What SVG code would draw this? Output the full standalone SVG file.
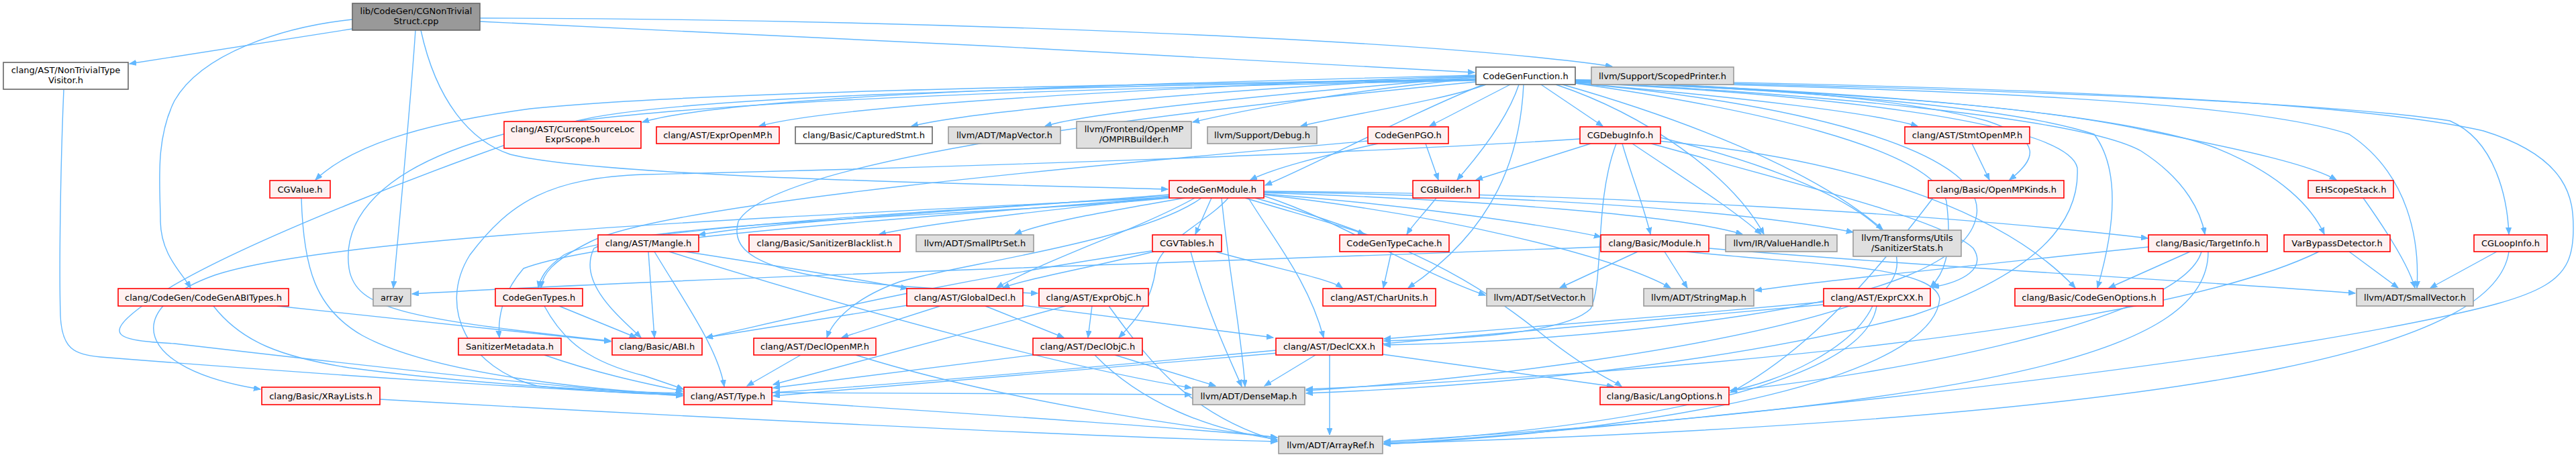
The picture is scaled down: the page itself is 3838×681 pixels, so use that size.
<svg xmlns="http://www.w3.org/2000/svg" width="3838" height="681" viewBox="0 0 3838 681">
<style>
text{font-family:"DejaVu Sans","Liberation Sans",sans-serif;font-size:13px;text-anchor:middle;fill:#000}
.r rect{fill:#fff0f0;stroke:#ff0000;stroke-width:1.6}
.g rect{fill:#e0e0e0;stroke:#999999;stroke-width:1.6}
.w rect{fill:#ffffff;stroke:#666666;stroke-width:1.6}
.root rect{fill:#999999;stroke:#666666;stroke-width:1.6}
#edges path{fill:none;stroke:#63b8ff;stroke-width:1.4;marker-end:url(#a)}
</style>
<defs>
<marker id="a" markerWidth="12" markerHeight="10" refX="10" refY="4" orient="auto" markerUnits="userSpaceOnUse"><path d="M0,0 L10,4 L0,8 Z" fill="#63b8ff" stroke="#63b8ff" stroke-width="1"/></marker>
</defs>
<rect width="3838" height="681" fill="#ffffff"/>
<g id="edges">
<path d="M715,32 C1100,48 1800,85 2197,108"/>
<path d="M715,27 C1300,28 2100,55 2402,99"/>
<path d="M525,43 L193,95"/>
<path d="M525,29 C420,40 300,80 260,150 C230,210 239,280 239,330 C240,380 270,405 284,429"/>
<path d="M619,45 C612,150 598,300 586,429"/>
<path d="M627,45 C650,150 700,210 760,230 C900,265 1500,275 1740,282"/>
<path d="M95,133 C90,250 88,400 90,470 C92,520 110,528 150,532 C500,560 850,582 1017,589"/>
<path d="M318,456 C360,510 420,532 520,548 C700,572 900,583 1017,586"/>
<path d="M413,456 L910,509"/>
<path d="M449,295 C452,400 470,460 540,500 C650,560 900,582 1017,588"/>
<path d="M2199,112 C1700,125 1100,140 957,182"/>
<path d="M2199,113 C1750,130 1250,155 1131,188"/>
<path d="M2199,114 C1800,135 1450,165 1358,188"/>
<path d="M2199,115 C1900,140 1620,168 1557,188"/>
<path d="M2199,117 C2000,135 1850,165 1777,182"/>
<path d="M2214,126 C2150,150 2000,172 1938,188"/>
<path d="M2250,126 L2130,188"/>
<path d="M2296,126 L2388,188"/>
<path d="M2263,126 C2245,180 2200,235 2171,268"/>
<path d="M2199,118 C1500,128 1000,140 790,162 C620,185 520,220 470,268"/>
<path d="M2199,119 C1500,130 1000,145 860,180 C700,230 330,370 220,450 C150,500 170,507 260,512 C500,540 850,580 1017,590"/>
<path d="M2199,120 C1400,135 900,160 750,200 C560,250 510,330 520,400 C530,460 600,475 910,508"/>
<path d="M2210,126 C2100,170 1950,250 1885,276"/>
<path d="M2199,122 C1700,170 1150,240 1100,330 C1080,400 1200,425 1546,437"/>
<path d="M2270,126 C2265,230 2230,340 2098,429"/>
<path d="M2318,126 C2450,170 2580,260 2628,349"/>
<path d="M2328,126 C2500,175 2700,250 2805,342"/>
<path d="M2347,124 C2600,145 2800,170 2857,188"/>
<path d="M2347,120 C2650,130 2850,150 2960,180 C3050,210 3030,240 2994,268"/>
<path d="M2347,121 C2650,135 3000,150 3200,195 C3350,225 3440,245 3481,268"/>
<path d="M2347,122 C2700,140 3100,175 3190,225 C3260,270 3280,320 3285,349"/>
<path d="M2347,121 C2750,135 3150,165 3300,220 C3400,260 3445,310 3463,349"/>
<path d="M2347,119 C2950,132 3450,150 3650,180 C3720,210 3736,300 3738,349"/>
<path d="M2347,120 C2900,133 3350,150 3500,200 C3590,260 3605,360 3601,429"/>
<path d="M2347,121 C2700,135 3000,160 3120,200 C3165,260 3145,360 3125,429"/>
<path d="M2347,119 C3000,128 3500,150 3700,195 C3830,235 3834,300 3834,340 C3834,420 3800,440 3600,480 C3200,560 2400,640 2062,662"/>
<path d="M2347,124 C2600,160 2880,220 2900,300 C2910,380 2895,410 2876,428"/>
<path d="M2347,123 C2700,140 3080,180 3095,250 C3100,350 3000,420 2850,470 C2500,560 2100,580 1946,586"/>
<path d="M2347,124 C2650,150 2960,220 2945,320 C2935,390 2800,440 2600,470 C2400,500 2200,512 2062,514"/>
<path d="M1742,290 C1500,310 1150,330 1041,350"/>
<path d="M1745,293 C1550,315 1400,330 1310,349"/>
<path d="M1765,295 C1650,315 1560,330 1512,349"/>
<path d="M1805,295 L1781,349"/>
<path d="M1855,295 C1920,315 1990,333 2033,349"/>
<path d="M1883,289 C2100,305 2300,335 2385,353"/>
<path d="M1883,287 C2200,298 2500,320 2596,349"/>
<path d="M1883,286 C2300,292 2600,315 2761,346"/>
<path d="M1883,285 C2400,288 2900,320 3200,355"/>
<path d="M1742,292 C1300,320 900,345 840,380 C812,400 805,415 802,429"/>
<path d="M1742,294 C1300,330 900,355 780,400 C745,440 742,480 744,503"/>
<path d="M1742,294 C1200,322 500,350 320,410 C180,460 200,550 388,580"/>
<path d="M1780,295 C1700,340 1550,390 1485,429"/>
<path d="M1790,295 C1700,360 1420,395 1340,420 C1270,445 1240,480 1232,503"/>
<path d="M1830,295 C1800,330 1728,360 1722,400 C1716,450 1690,480 1667,503"/>
<path d="M1860,295 C1900,360 1950,420 1972,503"/>
<path d="M1742,295 C1500,320 960,330 885,370 C860,420 920,470 955,503"/>
<path d="M1870,295 C2100,360 2200,420 2300,500 C2370,555 2405,568 2416,576"/>
<path d="M1820,295 C1830,400 1850,500 1855,576"/>
<path d="M1883,292 C2000,330 2100,400 2213,440"/>
<path d="M1883,290 C2150,320 2400,380 2489,429"/>
<path d="M2124,214 L2143,268"/>
<path d="M2053,214 C1960,235 1900,250 1863,268"/>
<path d="M2038,210 C1700,240 1000,300 880,360 C820,390 808,410 806,429"/>
<path d="M2370,214 L2199,268"/>
<path d="M2417,214 C2430,260 2450,310 2459,349"/>
<path d="M2432,214 C2500,260 2580,310 2624,349"/>
<path d="M2474,205 C2700,260 2900,350 2800,440 C2600,520 2150,570 1946,582"/>
<path d="M2470,210 C2800,240 3000,330 3092,429"/>
<path d="M2460,214 C2700,280 2900,330 2940,370 C2960,400 2925,420 2879,428"/>
<path d="M2408,214 C2375,300 2390,420 2370,460 C2330,500 2150,506 2062,508"/>
<path d="M2354,207 C2000,230 1400,250 960,260 C820,265 760,300 700,380 C650,460 700,550 800,575 C900,585 980,588 1017,588"/>
<path d="M2140,295 C2120,320 2105,335 2096,349"/>
<path d="M2938,214 L2964,268"/>
<path d="M2880,295 C2800,400 2700,520 2578,585"/>
<path d="M3521,295 C3560,350 3590,400 3598,429"/>
<path d="M3263,375 L3142,429"/>
<path d="M3201,368 C2900,400 2700,420 2615,433"/>
<path d="M3280,375 C3250,480 2800,560 2578,582"/>
<path d="M3290,375 C3290,520 3000,600 2062,658"/>
<path d="M3500,375 L3573,429"/>
<path d="M3455,375 C3200,500 2400,560 1946,580"/>
<path d="M3720,375 L3621,429"/>
<path d="M3738,375 C3720,500 3400,620 2062,661"/>
<path d="M2480,375 L2514,429"/>
<path d="M2440,375 L2324,429"/>
<path d="M2546,370 C2900,400 3300,420 3509,437"/>
<path d="M2513,375 C2700,395 2880,395 2890,445 C2880,560 2500,640 2062,662"/>
<path d="M2385,368 C1800,390 1000,415 614,438"/>
<path d="M2073,375 L2061,429"/>
<path d="M1719,375 C1620,400 1530,415 1494,429"/>
<path d="M1722,373 C1400,420 1200,470 1052,503"/>
<path d="M1774,375 C1800,470 1835,540 1850,576"/>
<path d="M1811,375 C1900,400 1980,415 2000,429"/>
<path d="M966,375 L975,503"/>
<path d="M975,375 C1020,450 1070,520 1079,576"/>
<path d="M1021,375 C1150,395 1300,420 1352,430"/>
<path d="M997,375 C1300,470 1600,550 1775,578"/>
<path d="M833,456 L948,503"/>
<path d="M811,456 C840,510 880,540 960,560 C990,570 1005,575 1018,580"/>
<path d="M1352,455 L1052,503"/>
<path d="M1401,456 L1254,503"/>
<path d="M1468,456 L1585,503"/>
<path d="M1523,455 L1897,503"/>
<path d="M1627,456 L1621,503"/>
<path d="M1588,456 L1152,573"/>
<path d="M1652,456 C1720,550 1780,620 1903,657"/>
<path d="M811,529 C900,560 980,575 1017,583"/>
<path d="M1193,529 L1113,575"/>
<path d="M1275,529 C1500,600 1800,640 1903,652"/>
<path d="M1539,529 L1152,578"/>
<path d="M1661,529 L1811,575"/>
<path d="M1631,529 C1700,600 1800,640 1903,655"/>
<path d="M1901,522 C1600,550 1300,575 1152,585"/>
<path d="M1960,529 L1884,575"/>
<path d="M1981,529 L1981,648"/>
<path d="M2060,528 L2404,576"/>
<path d="M2716,450 C2500,470 2200,495 2062,505"/>
<path d="M2716,454 C2300,490 1600,555 1152,590"/>
<path d="M2790,456 C2760,520 2650,570 2578,582"/>
<path d="M2796,456 C2780,560 2500,630 2062,660"/>
<path d="M1150,597 C1500,620 1800,640 1903,652"/>
<path d="M1150,585 L1775,588"/>
<path d="M566,595 C1000,620 1600,650 1903,658"/>
</g>
<g id="n_root" class="root"><rect x="525" y="5" width="190" height="40"/><text x="620" y="21">lib/CodeGen/CGNonTrivial</text><text x="620" y="36">Struct.cpp</text></g>
<g id="n_ntv" class="w"><rect x="5" y="93" width="186" height="40"/><text x="98" y="109">clang/AST/NonTrivialType</text><text x="98" y="124">Visitor.h</text></g>
<g id="n_cgf" class="w"><rect x="2199" y="100" width="148" height="26"/><text x="2273" y="117.5">CodeGenFunction.h</text></g>
<g id="n_sp" class="g"><rect x="2371" y="100" width="212" height="26"/><text x="2477" y="117.5">llvm/Support/ScopedPrinter.h</text></g>
<g id="n_csl" class="r"><rect x="751" y="181" width="204" height="40"/><text x="853" y="197">clang/AST/CurrentSourceLoc</text><text x="853" y="212">ExprScope.h</text></g>
<g id="n_eomp" class="r"><rect x="978" y="189" width="183" height="25"/><text x="1069.5" y="206">clang/AST/ExprOpenMP.h</text></g>
<g id="n_cap" class="w"><rect x="1185" y="189" width="204" height="25"/><text x="1287" y="206">clang/Basic/CapturedStmt.h</text></g>
<g id="n_mapv" class="g"><rect x="1413" y="189" width="167" height="25"/><text x="1496.5" y="206">llvm/ADT/MapVector.h</text></g>
<g id="n_omp" class="g"><rect x="1604" y="181" width="171" height="40"/><text x="1689.5" y="197">llvm/Frontend/OpenMP</text><text x="1689.5" y="212">/OMPIRBuilder.h</text></g>
<g id="n_dbg" class="g"><rect x="1799" y="189" width="163" height="25"/><text x="1880.5" y="206">llvm/Support/Debug.h</text></g>
<g id="n_pgo" class="r"><rect x="2038" y="189" width="120" height="25"/><text x="2098" y="206">CodeGenPGO.h</text></g>
<g id="n_cgdi" class="r"><rect x="2354" y="189" width="120" height="25"/><text x="2414" y="206">CGDebugInfo.h</text></g>
<g id="n_somp" class="r"><rect x="2838" y="189" width="186" height="25"/><text x="2931" y="206">clang/AST/StmtOpenMP.h</text></g>
<g id="n_cgv" class="r"><rect x="402" y="269" width="90" height="26"/><text x="447" y="286.5">CGValue.h</text></g>
<g id="n_cgm" class="r"><rect x="1742" y="269" width="141" height="26"/><text x="1812.5" y="286.5">CodeGenModule.h</text></g>
<g id="n_cgb" class="r"><rect x="2105" y="269" width="99" height="26"/><text x="2154.5" y="286.5">CGBuilder.h</text></g>
<g id="n_ompk" class="r"><rect x="2873" y="269" width="202" height="26"/><text x="2974" y="286.5">clang/Basic/OpenMPKinds.h</text></g>
<g id="n_ehs" class="r"><rect x="3439" y="269" width="127" height="26"/><text x="3502.5" y="286.5">EHScopeStack.h</text></g>
<g id="n_mangle" class="r"><rect x="891" y="350" width="150" height="25"/><text x="966" y="367">clang/AST/Mangle.h</text></g>
<g id="n_sbl" class="r"><rect x="1116" y="350" width="225" height="25"/><text x="1228.5" y="367">clang/Basic/SanitizerBlacklist.h</text></g>
<g id="n_spset" class="g"><rect x="1365" y="350" width="175" height="25"/><text x="1452.5" y="367">llvm/ADT/SmallPtrSet.h</text></g>
<g id="n_vt" class="r"><rect x="1717" y="350" width="103" height="25"/><text x="1768.5" y="367">CGVTables.h</text></g>
<g id="n_tc" class="r"><rect x="1996" y="350" width="163" height="25"/><text x="2077.5" y="367">CodeGenTypeCache.h</text></g>
<g id="n_mod" class="r"><rect x="2385" y="350" width="161" height="25"/><text x="2465.5" y="367">clang/Basic/Module.h</text></g>
<g id="n_vh" class="g"><rect x="2571" y="350" width="166" height="25"/><text x="2654" y="367">llvm/IR/ValueHandle.h</text></g>
<g id="n_ss" class="g"><rect x="2761" y="343" width="161" height="39"/><text x="2841.5" y="359">llvm/Transforms/Utils</text><text x="2841.5" y="374">/SanitizerStats.h</text></g>
<g id="n_ti" class="r"><rect x="3201" y="350" width="177" height="25"/><text x="3289.5" y="367">clang/Basic/TargetInfo.h</text></g>
<g id="n_vbd" class="r"><rect x="3403" y="350" width="158" height="25"/><text x="3482" y="367">VarBypassDetector.h</text></g>
<g id="n_loop" class="r"><rect x="3686" y="350" width="109" height="25"/><text x="3740.5" y="367">CGLoopInfo.h</text></g>
<g id="n_abit" class="r"><rect x="176" y="430" width="254" height="26"/><text x="303" y="447.5">clang/CodeGen/CodeGenABITypes.h</text></g>
<g id="n_arr" class="g"><rect x="556" y="430" width="56" height="26"/><text x="584" y="447.5">array</text></g>
<g id="n_cgt" class="r"><rect x="738" y="430" width="130" height="26"/><text x="803" y="447.5">CodeGenTypes.h</text></g>
<g id="n_gd" class="r"><rect x="1351" y="430" width="173" height="26"/><text x="1437.5" y="447.5">clang/AST/GlobalDecl.h</text></g>
<g id="n_eobjc" class="r"><rect x="1548" y="430" width="163" height="26"/><text x="1629.5" y="447.5">clang/AST/ExprObjC.h</text></g>
<g id="n_cu" class="r"><rect x="1971" y="430" width="168" height="26"/><text x="2055" y="447.5">clang/AST/CharUnits.h</text></g>
<g id="n_setv" class="g"><rect x="2215" y="430" width="158" height="26"/><text x="2294" y="447.5">llvm/ADT/SetVector.h</text></g>
<g id="n_smap" class="g"><rect x="2449" y="430" width="164" height="26"/><text x="2531" y="447.5">llvm/ADT/StringMap.h</text></g>
<g id="n_ecxx" class="r"><rect x="2717" y="430" width="159" height="26"/><text x="2796.5" y="447.5">clang/AST/ExprCXX.h</text></g>
<g id="n_cgo" class="r"><rect x="3002" y="430" width="221" height="26"/><text x="3112.5" y="447.5">clang/Basic/CodeGenOptions.h</text></g>
<g id="n_svec" class="g"><rect x="3511" y="430" width="174" height="26"/><text x="3598" y="447.5">llvm/ADT/SmallVector.h</text></g>
<g id="n_sm" class="r"><rect x="683" y="504" width="153" height="25"/><text x="759.5" y="521">SanitizerMetadata.h</text></g>
<g id="n_abi" class="r"><rect x="912" y="504" width="134" height="25"/><text x="979" y="521">clang/Basic/ABI.h</text></g>
<g id="n_domp" class="r"><rect x="1123" y="504" width="182" height="25"/><text x="1214" y="521">clang/AST/DeclOpenMP.h</text></g>
<g id="n_dobjc" class="r"><rect x="1539" y="504" width="163" height="25"/><text x="1620.5" y="521">clang/AST/DeclObjC.h</text></g>
<g id="n_dcxx" class="r"><rect x="1901" y="504" width="159" height="25"/><text x="1980.5" y="521">clang/AST/DeclCXX.h</text></g>
<g id="n_xray" class="r"><rect x="390" y="577" width="176" height="26"/><text x="478" y="594.5">clang/Basic/XRayLists.h</text></g>
<g id="n_type" class="r"><rect x="1019" y="577" width="131" height="26"/><text x="1084.5" y="594.5">clang/AST/Type.h</text></g>
<g id="n_dm" class="g"><rect x="1777" y="577" width="167" height="26"/><text x="1860.5" y="594.5">llvm/ADT/DenseMap.h</text></g>
<g id="n_lo" class="r"><rect x="2384" y="577" width="192" height="26"/><text x="2480" y="594.5">clang/Basic/LangOptions.h</text></g>
<g id="n_ar" class="g"><rect x="1905" y="650" width="155" height="26"/><text x="1982.5" y="667.5">llvm/ADT/ArrayRef.h</text></g>
</svg>
